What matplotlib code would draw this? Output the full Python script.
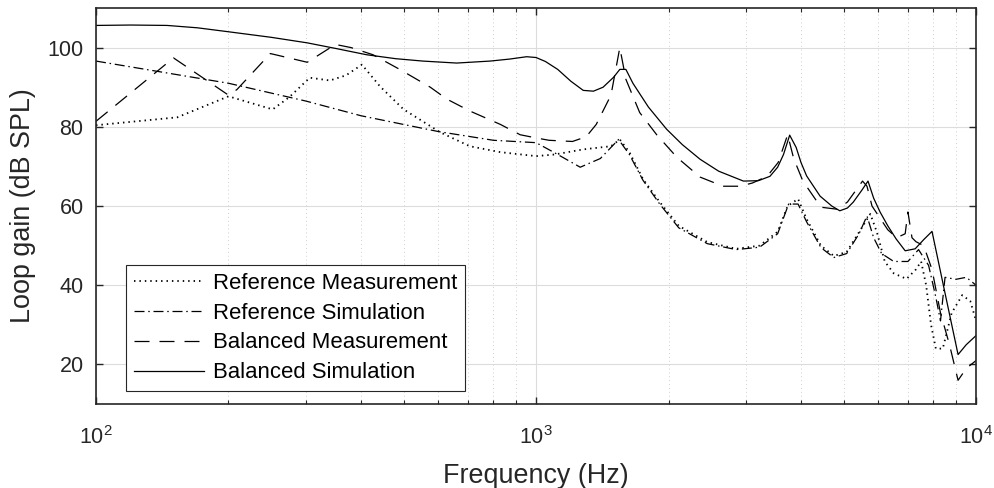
import matplotlib
matplotlib.use('Agg')
import matplotlib.pyplot as plt
from matplotlib.ticker import LogLocator, NullFormatter

plt.rcParams['font.family'] = ['Liberation Sans', 'DejaVu Sans']
plt.rcParams['mathtext.fontset'] = 'custom'
plt.rcParams['mathtext.rm'] = 'Liberation Sans'
plt.rcParams['mathtext.default'] = 'regular'

# Reference Measurement (dotted)
f_ref_meas = [100, 153, 200, 252, 275, 306, 340, 370, 402, 442, 500, 606, 707, 830, 1000,
              1100, 1280, 1480, 1550, 1630, 1750, 1910, 2110, 2450, 2850, 3220, 3540, 3730,
              3940, 4120, 4440, 4750, 5080, 5420, 5750, 5950, 6200, 6500, 6950, 7300, 7500,
              7700, 7900, 8100, 8400, 8800, 9300, 9700, 10000]
y_ref_meas = [80.4, 82.4, 87.7, 84.4, 87.5, 92.4, 91.7, 93, 95.7, 90.2, 84.4, 78.6, 75.1, 73.6, 72.6,
              73, 74.3, 75.1, 76.8, 73.6, 66.8, 61, 55, 50.9, 49.2, 50, 53.5, 60,
              61.8, 56.7, 50, 47.4, 48.4, 53.4, 58, 53.4, 46, 43, 41.6, 44, 46,
              40, 30, 24, 24, 33, 37.5, 36, 31]

# Reference Simulation (dash-dot)
f_ref_sim = [100, 200, 300, 400, 600, 800, 1000, 1100, 1260, 1400, 1540, 1630, 1750, 1910,
             2110, 2450, 2850, 3220, 3540, 3750, 3940, 4120, 4440, 4750, 5080, 5420, 5650,
             5850, 6100, 6500, 7000, 7400, 7800, 8100, 8300, 8500, 9000, 9500, 10000]
y_ref_sim = [96.6, 91, 86.5, 82.8, 78.8, 76.6, 76, 73.5, 69.8, 72, 76.8, 73, 66.5, 60.5,
             54.5, 50.5, 49, 49.6, 53, 60.5, 60.5, 56, 49.5, 47, 48, 53, 57.5,
             52, 48, 46, 46, 49, 45, 37, 31, 42, 41.5, 42, 40]

# Balanced Measurement (dashed)
f_bal_meas = [100, 150, 200, 209, 249, 302, 350, 380, 426, 490, 575, 627, 707, 830, 920,
              1000, 1070, 1210, 1300, 1370, 1480, 1550, 1600, 1720, 1880, 2090, 2360, 2660,
              2900, 3100, 3350, 3550, 3730, 3850, 4040, 4440, 4830, 5100, 5520, 5650, 5800,
              6300, 6600, 6900, 7000, 7150, 7300, 7600, 7940, 8300, 8700, 9100, 9500, 10000]
y_bal_meas = [81.4, 97.4, 88, 89.4, 98.5, 96.3, 100.8, 100, 98.2, 94.5, 90, 87, 84, 80.6, 78,
              77.2, 76.6, 76.3, 77.5, 80.6, 88, 100, 92, 83.6, 78, 72.3, 67.3, 65,
              65, 65.8, 67.5, 71, 78, 72, 66.3, 59.7, 59.2, 61, 66.3, 65, 60,
              54, 52, 53, 58.5, 52, 51, 50, 44, 33, 25, 16, 19, 21]

# Balanced Simulation (solid)
f_bal_sim = [100, 120, 145, 170, 200, 250, 302, 350, 412, 480, 553, 660, 786, 870, 952,
             1000, 1050, 1120, 1200, 1280, 1350, 1420, 1500, 1550, 1600, 1660, 1800, 1980,
             2150, 2360, 2600, 2960, 3200, 3400, 3540, 3650, 3770, 3900, 4000, 4120, 4420,
             4700, 4900, 5100, 5260, 5500, 5680, 5850, 6050, 6300, 6580, 6900, 7270, 7600,
             7940, 8500, 9100, 9500, 10000]
y_bal_sim = [105.6, 105.7, 105.6, 105, 104, 102.6, 101.2, 99.8, 98.2, 97.2, 96.6, 96.1, 96.6, 97.1, 97.7,
             97.5, 96.5, 94.5, 91.5, 89.2, 89, 90, 92.5, 94.5, 94.5, 91, 85, 79.4,
             75.5, 71.8, 68.8, 66.3, 66.4, 67.5, 69.8, 73, 77.9, 74.8, 71, 67.6, 62.5,
             60, 58.8, 59.5, 61, 64, 66.3, 62, 58.5, 55, 51.7, 48.7, 49.2, 51.5,
             53.6, 38, 22.5, 25, 27.3]

labels = ['Reference Measurement', 'Reference Simulation',
          'Balanced Measurement', 'Balanced Simulation']

fig = plt.figure(figsize=(9.95, 4.88), dpi=100)
ax = fig.add_axes([0.0965, 0.172, 0.8845, 0.8116])

lw = 0.9
ax.semilogx(f_ref_meas, y_ref_meas, color='black', lw=1.3, linestyle=(0, (0.8, 2.2)), label=labels[0])
ax.semilogx(f_ref_sim, y_ref_sim, color='black', lw=lw, linestyle=(0, (8, 3, 1.2, 3)), label=labels[1])
ax.semilogx(f_bal_meas, y_bal_meas, color='black', lw=lw, linestyle=(0, (12, 8)), label=labels[2])
ax.semilogx(f_bal_sim, y_bal_sim, color='black', lw=lw, linestyle='-', label=labels[3])

ax.set_xlim(100, 10000)
ax.set_ylim(10, 110)
ax.set_yticks([20, 40, 60, 80, 100])
ax.xaxis.set_major_locator(LogLocator(base=10))
ax.xaxis.set_minor_locator(LogLocator(base=10, subs=range(2, 10)))
ax.xaxis.set_minor_formatter(NullFormatter())

ax.grid(True, which='major', color='#dcdcdc', lw=0.8)
ax.grid(True, which='minor', axis='x', color='#cfcfcf', lw=0.7, linestyle=(0, (1, 3)))
ax.set_axisbelow(True)

for s in ax.spines.values():
    s.set_color('#262626')
    s.set_linewidth(1.2)
ax.tick_params(which='both', direction='in', top=True, right=True, colors='#262626',
               labelsize=15.5)
ax.tick_params(which='major', length=5, width=1)
ax.tick_params(which='minor', length=3, width=0.8)
ax.tick_params(axis='x', which='major', pad=16)
ax.tick_params(axis='y', which='major', pad=9)

ax.set_xlabel('Frequency (Hz)', fontsize=19.4, color='#262626', labelpad=10)
ax.set_ylabel('Loop gain (dB SPL)', fontsize=19.4, color='#262626', labelpad=8)

leg = ax.legend(loc='lower left', bbox_to_anchor=(0.034, 0.033), borderaxespad=0,
                fontsize=15.9, handlelength=3.2, handletextpad=0.4, labelspacing=0.4,
                fancybox=False, framealpha=1, edgecolor='#262626', borderpad=0.35)
leg.get_frame().set_linewidth(0.8)

fig.savefig('out.png', dpi=100)
